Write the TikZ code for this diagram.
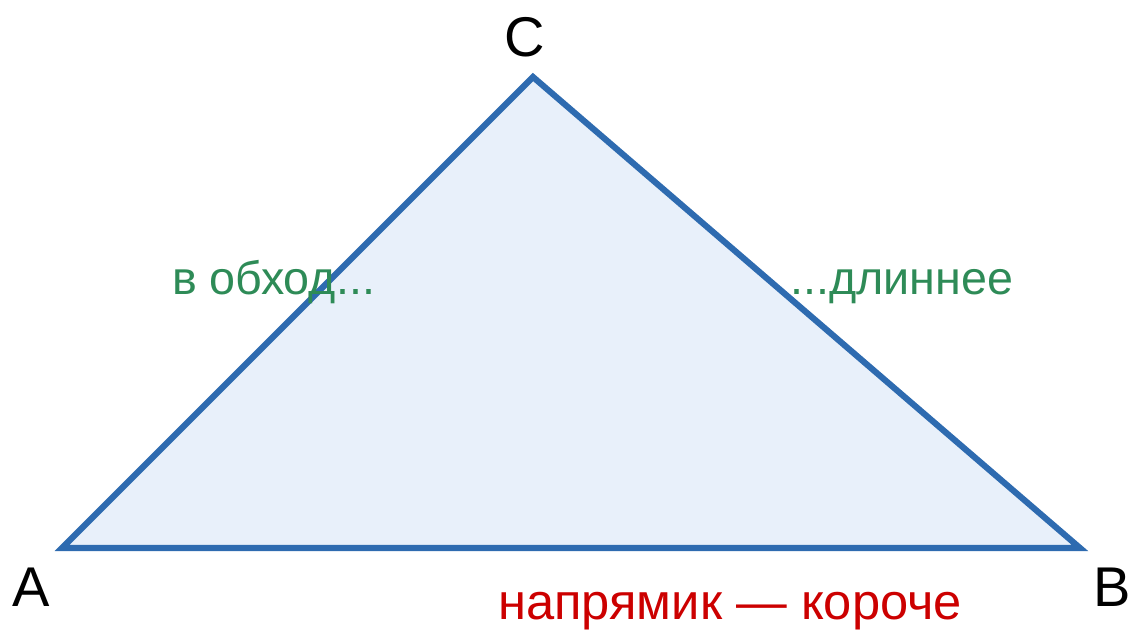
\documentclass[tikz,border=0pt]{standalone}
\usepackage{fontspec}
\setmainfont{Liberation Sans}
\definecolor{edgeblue}{HTML}{2E6BB0}
\definecolor{fillblue}{HTML}{E8F0FA}
\definecolor{txtgreen}{HTML}{2E8B57}
\definecolor{txtred}{HTML}{CC0000}
\begin{document}
\begin{tikzpicture}[x=0.75pt,y=-0.75pt,
  side/.style={draw=edgeblue,fill=fillblue,line width=4.6pt,line join=miter},
  vlabel/.style={font=\fontsize{42}{48}\selectfont,text=black,inner sep=0pt,anchor=base},
  greentxt/.style={font=\fontsize{35}{40}\selectfont,text=txtgreen,inner sep=0pt,anchor=base west},
  redtxt/.style={font=\fontsize{38}{42}\selectfont,text=txtred,inner sep=0pt,anchor=base west}]
\useasboundingbox (0,0) rectangle (1129,630);
\coordinate (A) at (62,548);
\coordinate (B) at (1080,548);
\coordinate (C) at (533,77);
\draw[side] (A) -- (B) -- (C) -- cycle;
\node[vlabel] (lc) at (525,57) {C};
\node[vlabel] (la) at (31,607) {A};
\node[vlabel] (lb) at (1112,607) {B};
\node[greentxt] (g1) at (172,295) {в обход...};
\node[greentxt] (g2) at (790,295) {...длиннее};
\node[redtxt] (r1) at (498,620) {напрямик — короче};
\end{tikzpicture}
\end{document}
